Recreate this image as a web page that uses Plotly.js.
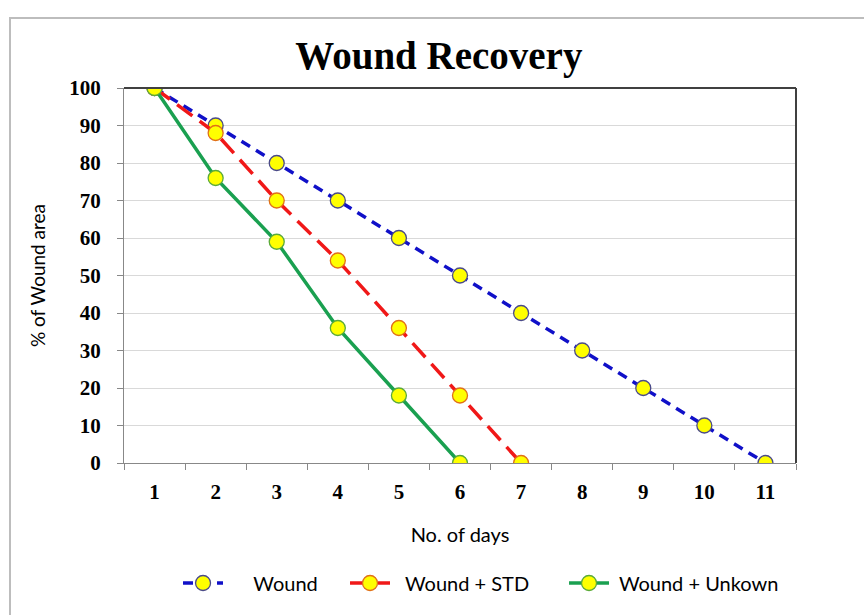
<!DOCTYPE html>
<html>
<head>
<meta charset="utf-8">
<script src="https://cdn.plot.ly/plotly-3.0.1.min.js"></script>
<style>
  html, body { margin: 0; padding: 0; background: #fff; }
  #wrap { position: relative; width: 864px; height: 615px; overflow: hidden; }
  #frame { position: absolute; left: 9px; top: 17px; width: 900px; height: 700px; border: 2px solid #BDBDBD; box-sizing: border-box; pointer-events: none; z-index: 5; }
  #chart { position: absolute; left: 0; top: 0; width: 864px; height: 615px; }
</style>
</head>
<body>
<div id="wrap">
  <div id="chart"></div>
  <div id="frame"></div>
</div>
<script>
const days = ['1','2','3','4','5','6','7','8','9','10','11'];
const woundDays = ['1','2','3','4','5','6','7','8','9','10','11'];
const woundVals = [100, 90, 80, 70, 60, 50, 40, 30, 20, 10, 0];
const stdDays = ['1','2','3','4','5','6','7'];
const stdVals = [100, 88, 70, 54, 36, 18, 0];
const unkDays = ['1','2','3','4','5','6'];
const unkVals = [100, 76, 59, 36, 18, 0];
const yTicks = [0,10,20,30,40,50,60,70,80,90,100];
const seriesNames = ['Wound', 'Wound + STD', 'Wound + Unkown'];

const NB = '\u00a0';
const serifBold = {family: '"Liberation Serif", "Times New Roman", serif', size: 21, color: '#000', weight: 'bold'};
const sansFam = 'Lato, "Noto Sans", sans-serif';

const traces = [
  {x: woundDays, y: woundVals, name: NB.repeat(5) + seriesNames[0], mode: 'lines+markers', legend: 'legend',
   line: {color: '#1010C8', width: 3.5, dash: '10px,7px'},
   marker: {size: 15, color: '#FFFF00', line: {color: '#4A4A8A', width: 1.3}}},
  {x: stdDays, y: stdVals, name: NB.repeat(2) + seriesNames[1], mode: 'lines+markers', legend: 'legend2',
   line: {color: '#F01818', width: 3.5, dash: '19px,9px'},
   marker: {size: 15, color: '#FFFF00', line: {color: '#E07018', width: 1.3}}},
  {x: unkDays, y: unkVals, name: NB + seriesNames[2], mode: 'lines+markers', legend: 'legend3',
   line: {color: '#1AA050', width: 3.5},
   marker: {size: 15, color: '#FFFF00', line: {color: '#5AAA3A', width: 1.3}}}
];

const legBase = {orientation: 'h', xanchor: 'left', y: -0.32, yanchor: 'middle',
                 font: {family: sansFam, size: 20, color: '#000'}, itemwidth: 40, bgcolor: 'rgba(0,0,0,0)'};

const layout = {
  width: 864, height: 615,
  paper_bgcolor: 'rgba(0,0,0,0)', plot_bgcolor: '#fff',
  margin: {l: 124, r: 68, t: 88, b: 152},
  title: {text: '<b>Wound Recovery</b>', x: 0.508, xanchor: 'center', y: 0.91, yanchor: 'middle',
          font: {family: '"Liberation Serif", "Times New Roman", serif', size: 39, color: '#000'}},
  xaxis: {type: 'category', categoryorder: 'array', categoryarray: days,
          range: [-0.5, 10.5], tickson: 'boundaries', ticks: 'outside', ticklen: 6,
          tickcolor: '#888', showgrid: false, showline: true, linecolor: '#888', linewidth: 1,
          zeroline: false, tickfont: serifBold, ticklabelstandoff: 10,
          title: {text: 'No. of days', font: {family: sansFam, size: 20, color: '#000'}, standoff: 24}, fixedrange: true},
  yaxis: {range: [0, 100], tickmode: 'array', tickvals: yTicks, ticktext: yTicks.map(String),
          ticks: 'outside', ticklen: 6, tickcolor: '#888', showline: true, linecolor: '#888', linewidth: 1,
          showgrid: true, gridcolor: '#D9D9D9', gridwidth: 1, zeroline: false,
          tickfont: serifBold, ticklabelstandoff: 12,
          title: {text: '% of Wound area', font: {family: sansFam, size: 19, color: '#000'}, standoff: 18}, fixedrange: true},
  shapes: [
    {type: 'line', xref: 'paper', yref: 'paper', x0: 0, x1: 1, y0: 1, y1: 1, line: {color: '#404040', width: 2}},
    {type: 'line', xref: 'paper', yref: 'paper', x0: 1, x1: 1, y0: 0, y1: 1, line: {color: '#404040', width: 2}}
  ],
  showlegend: true,
  legend: Object.assign({}, legBase, {x: 0.0804}),
  legend2: Object.assign({}, legBase, {x: 0.3289}),
  legend3: Object.assign({}, legBase, {x: 0.6548})
};

Plotly.newPlot('chart', traces, layout, {displayModeBar: false, staticPlot: true});
</script>
</body>
</html>
